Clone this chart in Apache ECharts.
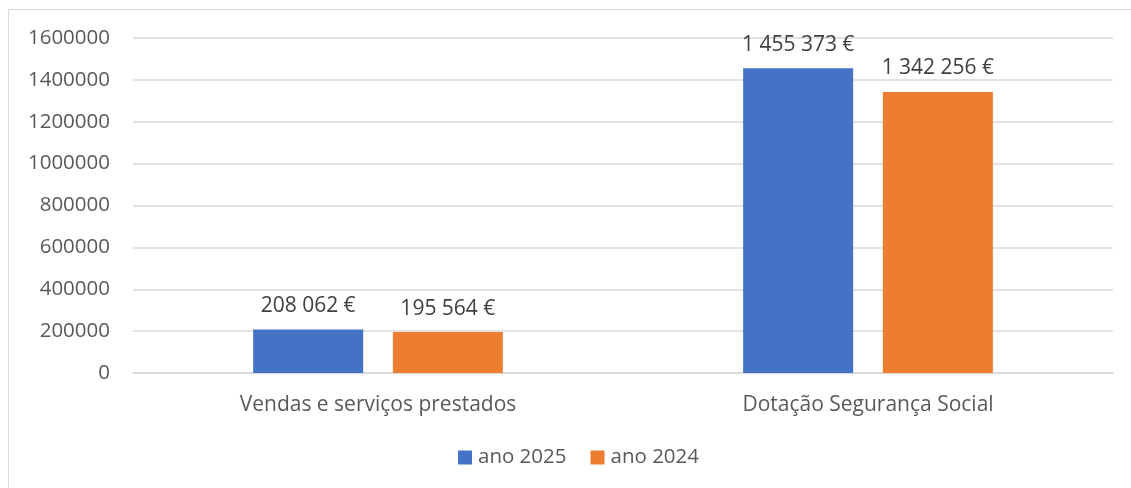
<!DOCTYPE html>
<html><head><meta charset="utf-8">
<script src="https://cdn.jsdelivr.net/npm/echarts@6/dist/echarts.min.js"></script>
<style>html,body{margin:0;padding:0;background:#fff}#c{width:1131px;height:488px;position:relative}
#frame{position:absolute;left:8px;top:9px;width:1140px;height:500px;border:1px solid #d9d9d9;box-sizing:border-box;pointer-events:none}</style>
</head><body><div id="c"></div><div id="frame"></div>
<script>
const categories = ["Vendas e serviços prestados", "Dotação Segurança Social"];
const seriesNames = ["ano 2025", "ano 2024"];
const values2025 = [208062, 1455373];
const values2024 = [195564, 1342256];
const colors = ["#4472c4", "#ed7d31"];

function fmt(v){ return String(v).replace(/\B(?=(\d{3})+(?!\d))/g, ' ') + ' €'; }
const chart = echarts.init(document.getElementById('c'), null, {renderer:'canvas'});
const font = "'Open Sans', sans-serif";
chart.setOption({
  animation:false,
  textStyle:{fontFamily:font},
  grid:{left:133,right:18,top:38,bottom:115},
  legend:{top:442,left:453,itemWidth:14,itemHeight:14,itemGap:24,icon:'rect',
    textStyle:{fontSize:20.5,color:'#595959',fontFamily:font,padding:[0,0,0,1]},data:seriesNames},
  xAxis:{type:'category',data:categories,axisTick:{show:false},
    axisLine:{lineStyle:{color:'#d9d9d9',width:1.5}},
    axisLabel:{fontSize:21,color:'#595959',margin:22,fontFamily:font}},
  yAxis:{type:'value',min:0,max:1600000,interval:200000,
    axisLabel:{fontSize:20.5,color:'#595959',margin:23,fontFamily:font,formatter:v=>String(v)},
    splitLine:{lineStyle:{color:'#d9d9d9',width:1.5}},axisLine:{show:false}},
  series:[
    {name:seriesNames[0],type:'bar',data:values2025,barWidth:110,barGap:'27%',itemStyle:{color:colors[0]},
     label:{show:true,position:'top',distance:13,fontSize:21,color:'#404040',fontFamily:font,formatter:p=>fmt(p.value)}},
    {name:seriesNames[1],type:'bar',data:values2024,barWidth:110,barGap:'27%',itemStyle:{color:colors[1]},
     label:{show:true,position:'top',distance:13,fontSize:21,color:'#404040',fontFamily:font,formatter:p=>fmt(p.value)}}
  ]
});
</script></body></html>
